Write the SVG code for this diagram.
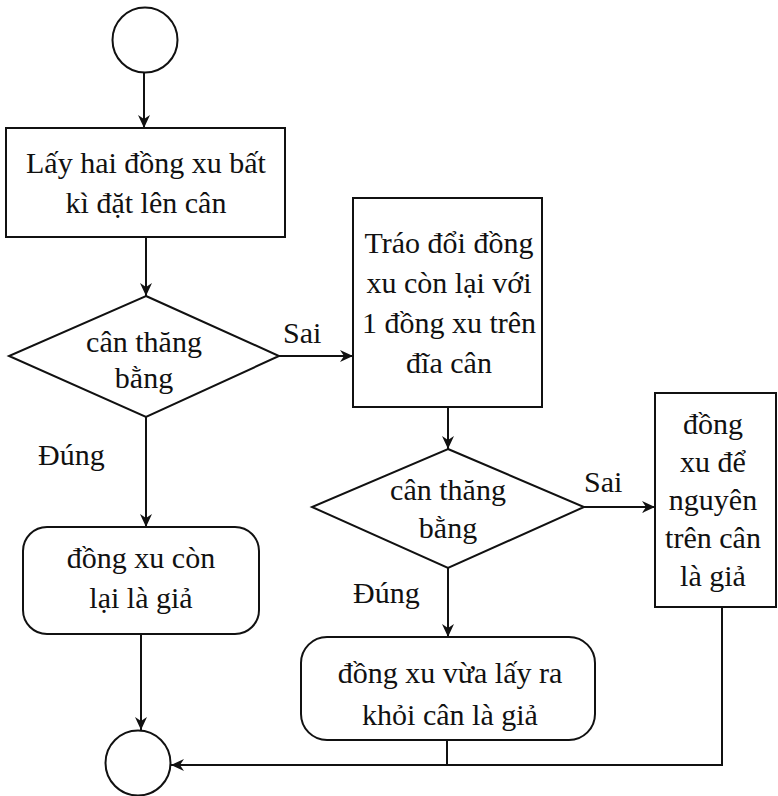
<svg xmlns="http://www.w3.org/2000/svg" width="778" height="796" viewBox="0 0 778 796">
  <style>
    .shape { fill: #ffffff; stroke: #111111; stroke-width: 2; }
    .edge { fill: none; stroke: #111111; stroke-width: 2; }
    .lbl { font-family: "Liberation Serif", "Times New Roman", serif; font-size: 30px; fill: #111111; }
    .mid { text-anchor: middle; }
  </style>
  <defs>
    <marker id="arrow" markerUnits="userSpaceOnUse" markerWidth="14" markerHeight="12" refX="13" refY="6" orient="auto">
      <path d="M0,0 L13,6 L0,12 L4,6 z" fill="#111111"/>
    </marker>
  </defs>
  <rect width="778" height="796" fill="#ffffff"/>

  <!-- connectors -->
  <g id="connectors">
    <line class="edge" x1="144" y1="72" x2="144" y2="128" marker-end="url(#arrow)"/>
    <line class="edge" x1="146" y1="237" x2="146" y2="296" marker-end="url(#arrow)"/>
    <line class="edge" x1="279" y1="356" x2="353" y2="356" marker-end="url(#arrow)"/>
    <line class="edge" x1="448" y1="407" x2="448" y2="449" marker-end="url(#arrow)"/>
    <line class="edge" x1="584" y1="507" x2="655" y2="507" marker-end="url(#arrow)"/>
    <line class="edge" x1="146" y1="417" x2="146" y2="527" marker-end="url(#arrow)"/>
    <line class="edge" x1="448" y1="568" x2="448" y2="637" marker-end="url(#arrow)"/>
    <line class="edge" x1="141" y1="634" x2="141" y2="730" marker-end="url(#arrow)"/>
    <line class="edge" x1="447" y1="740" x2="447" y2="765"/>
    <polyline class="edge" points="722,607 722,765 171,765" marker-end="url(#arrow)"/>
    <text class="lbl" x="283" y="343">Sai</text>
    <text class="lbl" x="38" y="465">Đúng</text>
    <text class="lbl" x="584" y="492">Sai</text>
    <text class="lbl" x="353" y="603">Đúng</text>
  </g>

  <g id="start">
    <circle class="shape" cx="145" cy="40" r="32.5"/>
  </g>

  <g id="pick-two">
    <rect class="shape" x="6" y="128" width="279" height="109"/>
    <text class="lbl mid" x="146" y="173">Lấy hai đồng xu bất</text>
    <text class="lbl mid" x="146" y="213">kì đặt lên cân</text>
  </g>

  <g id="balanced-1">
    <polygon class="shape" points="146,296 279,356 146,417 9,356"/>
    <text class="lbl mid" x="144" y="352">cân thăng</text>
    <text class="lbl mid" x="144" y="388">bằng</text>
  </g>

  <g id="swap">
    <rect class="shape" x="353" y="198" width="189" height="209"/>
    <text class="lbl mid" x="449" y="253">Tráo đổi đồng</text>
    <text class="lbl mid" x="449" y="293">xu còn lại với</text>
    <text class="lbl mid" x="449" y="333">1 đồng xu trên</text>
    <text class="lbl mid" x="449" y="373">đĩa cân</text>
  </g>

  <g id="balanced-2">
    <polygon class="shape" points="448,449 584,507 448,568 312,507"/>
    <text class="lbl mid" x="448" y="500">cân thăng</text>
    <text class="lbl mid" x="448" y="538">bằng</text>
  </g>

  <g id="remaining-fake">
    <rect class="shape" x="23" y="527" width="236" height="107" rx="24" ry="24"/>
    <text class="lbl mid" x="141" y="568">đồng xu còn</text>
    <text class="lbl mid" x="141" y="608">lại là giả</text>
  </g>

  <g id="removed-fake">
    <rect class="shape" x="301" y="637" width="294" height="103" rx="26" ry="26"/>
    <text class="lbl mid" x="450" y="683">đồng xu vừa lấy ra</text>
    <text class="lbl mid" x="450" y="725">khỏi cân là giả</text>
  </g>

  <g id="kept-fake">
    <rect class="shape" x="655" y="393" width="121" height="214"/>
    <text class="lbl mid" x="713" y="434">đồng</text>
    <text class="lbl mid" x="713" y="472">xu để</text>
    <text class="lbl mid" x="713" y="510">nguyên</text>
    <text class="lbl mid" x="713" y="548">trên cân</text>
    <text class="lbl mid" x="713" y="586">là giả</text>
  </g>

  <g id="end">
    <circle class="shape" cx="138" cy="763" r="32.5"/>
  </g>
</svg>
